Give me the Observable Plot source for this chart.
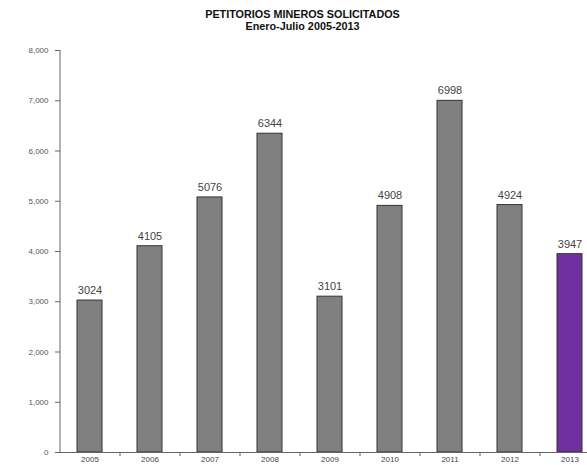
<!DOCTYPE html>
<html>
<head>
<meta charset="utf-8">
<script src="https://cdn.jsdelivr.net/npm/d3@7"></script>
<script src="https://cdn.jsdelivr.net/npm/@observablehq/plot@0.6"></script>
<style>
  html, body { margin: 0; padding: 0; background: #fff; overflow: hidden; width: 587px; height: 465px; }
  #title { position: absolute; left: 0; top: 8px; width: 605px; text-align: center;
    font-family: "Liberation Sans", Arial, sans-serif; font-weight: bold; font-size: 10.8px; line-height: 12px; color: #111; }
  #chart { position: absolute; left: 0; top: 36px; }
</style>
</head>
<body>
<div id="title">PETITORIOS MINEROS SOLICITADOS<br>Enero-Julio 2005-2013</div>
<div id="chart"></div>
<script>
const years = ["2005", "2006", "2007", "2008", "2009", "2010", "2011", "2012", "2013"];
const values = [3024, 4105, 5076, 6344, 3101, 4908, 6998, 4924, 3947];
const yTicks = [0, 1000, 2000, 3000, 4000, 5000, 6000, 7000, 8000];
const highlightYear = "2013";

const data = years.map((y, i) => ({year: y, value: values[i]}));
const gray = "#808080";
const purple = "#7030A0";
const fmt = d3.format(",");

const chart = Plot.plot({
  width: 587,
  height: 429,
  marginTop: 14,
  marginLeft: 60,
  marginBottom: 13,
  marginRight: 0,
  style: {fontFamily: "'Liberation Sans', Arial, sans-serif", background: "white", overflow: "hidden"},
  x: {domain: years, range: [60, 600], paddingInner: 0.583, paddingOuter: 0.2915, axis: null},
  y: {domain: [0, 8000], axis: null},
  marks: [
    Plot.barY(data, {x: "year", y: "value", fill: d => d.year === highlightYear ? purple : gray, stroke: "#333", strokeWidth: 1}),
    Plot.ruleY([0], {stroke: "#666"}),
    Plot.ruleX([years[0]], {x: d => d, y1: 0, y2: 8000, dx: -30, stroke: "#666"}),
    Plot.ruleX(years.slice(1), {x: d => d, y1: 0, y2: 0, dx: -30, insetTop: 0, insetBottom: -4, stroke: "#666"}),
    Plot.axisY(yTicks, {tickFormat: fmt, tickSize: 5, tickPadding: 7, fontSize: 8, color: "#555", stroke: "#666", label: null}),
    Plot.axisX({tickSize: 0, tickPadding: 4, fontSize: 8, color: "#444", label: null}),
    Plot.text(data, {x: "year", y: "value", text: d => String(d.value), dy: -10, fontSize: 11, fill: "#444"})
  ]
});
document.getElementById("chart").append(chart);
</script>
</body>
</html>
